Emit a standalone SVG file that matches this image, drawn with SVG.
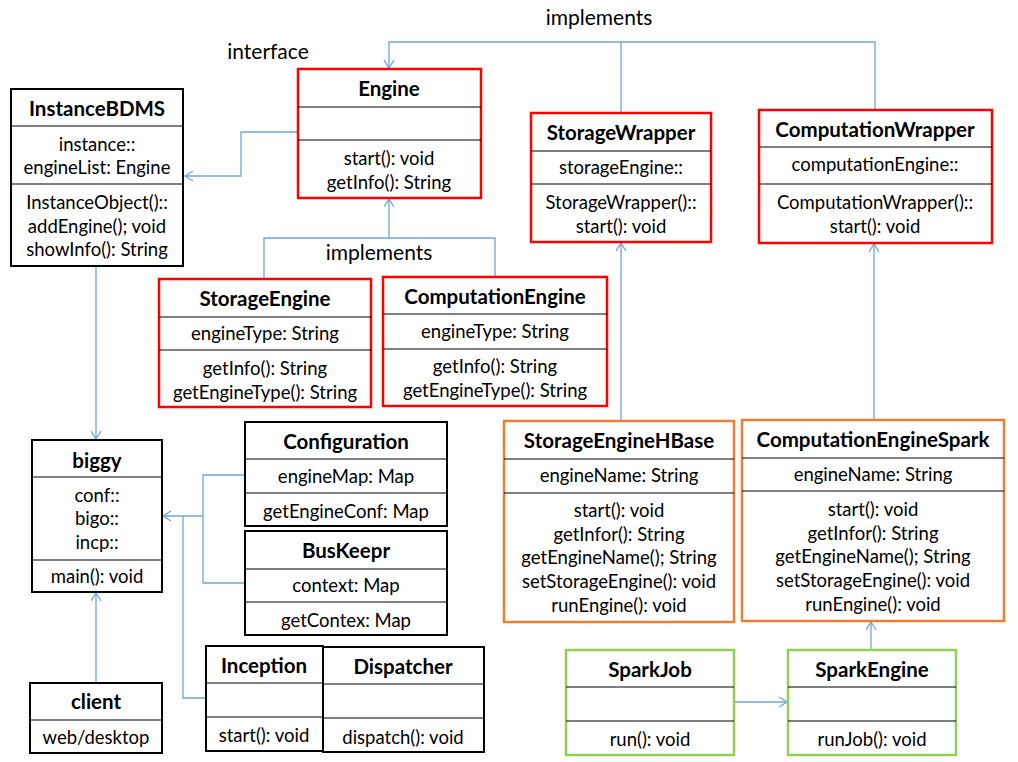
<svg xmlns="http://www.w3.org/2000/svg" width="1018" height="762" viewBox="0 0 1018 762">
<defs>
<marker id="arr" markerUnits="userSpaceOnUse" markerWidth="12" markerHeight="12" refX="9" refY="5.5" orient="auto">
<path d="M1,0.5 L9,5.5 L1,10.5" fill="none" stroke="#6FA5DA" stroke-width="1.3"/>
</marker>
</defs>
<style>
text{font-family:Lato,"Open Sans","Liberation Sans",sans-serif;font-size:18.5px;fill:#000;text-anchor:middle;dominant-baseline:central}
.t{font-weight:bold;font-size:20.5px}
.lbl{font-size:21px}
.blk{fill:#fff;stroke:#000;stroke-width:2}
.red{fill:#fff;stroke:#FF0000;stroke-width:2.5}
.org{fill:#fff;stroke:#ED7D31;stroke-width:2.5}
.grn{fill:#fff;stroke:#92D050;stroke-width:2.5}
.d{stroke:#000;stroke-width:1}
.c{fill:none;stroke:#6FA5DA;stroke-width:1.3}
</style>
<rect width="1018" height="762" fill="#fff"/>

<g id="connectors">
<path class="c" d="M298,132 H241 V176 H185" marker-end="url(#arr)"/>
<path class="c" d="M875,110 V42 H389 V68" marker-end="url(#arr)"/>
<path class="c" d="M621,113 V42"/>
<path class="c" d="M264,279 V238 H495 V277"/>
<path class="c" d="M389,238 V199" marker-end="url(#arr)"/>
<path class="c" d="M96,266 V439" marker-end="url(#arr)"/>
<path class="c" d="M96,683 V593" marker-end="url(#arr)"/>
<path class="c" d="M245,475 H203 V583 H245"/>
<path class="c" d="M203,516 H163" marker-end="url(#arr)"/>
<path class="c" d="M206,698 H183 V516"/>
<path class="c" d="M621,421 V243" marker-end="url(#arr)"/>
<path class="c" d="M874,420 V244" marker-end="url(#arr)"/>
<path class="c" d="M734,702 H787" marker-end="url(#arr)"/>
<path class="c" d="M871,650 V622" marker-end="url(#arr)"/>
</g>

<g id="labels">
<text class="lbl" x="268" y="50">interface</text>
<text class="lbl" x="599" y="16">implements</text>
<text class="lbl" x="379" y="251">implements</text>
</g>

<g id="InstanceBDMS">
<rect class="blk" x="11" y="89" width="172" height="177"/>
<line class="d" x1="11" y1="126" x2="183" y2="126"/>
<line class="d" x1="11" y1="184" x2="183" y2="184"/>
<text class="t" x="97" y="108">InstanceBDMS</text>
<text x="97" y="144">instance::</text>
<text x="97" y="167">engineList: Engine</text>
<text x="97" y="202">InstanceObject()::</text>
<text x="97" y="226">addEngine(); void</text>
<text x="97" y="249">showInfo(): String</text>
</g>

<g id="Engine">
<rect class="red" x="298" y="69" width="183" height="129"/>
<line class="d" x1="298" y1="107" x2="481" y2="107"/>
<line class="d" x1="298" y1="140" x2="481" y2="140"/>
<text class="t" x="389" y="88">Engine</text>
<text x="389" y="158">start(): void</text>
<text x="389" y="182">getInfo(): String</text>
</g>

<g id="StorageWrapper">
<rect class="red" x="531" y="113" width="180" height="129"/>
<line class="d" x1="531" y1="151" x2="711" y2="151"/>
<line class="d" x1="531" y1="184" x2="711" y2="184"/>
<text class="t" x="621" y="132">StorageWrapper</text>
<text x="621" y="167">storageEngine::</text>
<text x="621" y="202">StorageWrapper()::</text>
<text x="621" y="226">start(): void</text>
</g>

<g id="ComputationWrapper">
<rect class="red" x="759" y="110" width="233" height="133"/>
<line class="d" x1="759" y1="147" x2="992" y2="147"/>
<line class="d" x1="759" y1="184" x2="992" y2="184"/>
<text class="t" x="875" y="129">ComputationWrapper</text>
<text x="875" y="164">computationEngine::</text>
<text x="875" y="202">ComputationWrapper()::</text>
<text x="875" y="226">start(): void</text>
</g>

<g id="StorageEngine">
<rect class="red" x="159" y="279" width="212" height="128"/>
<line class="d" x1="159" y1="317" x2="371" y2="317"/>
<line class="d" x1="159" y1="350" x2="371" y2="350"/>
<text class="t" x="265" y="298">StorageEngine</text>
<text x="265" y="333">engineType: String</text>
<text x="265" y="368">getInfo(): String</text>
<text x="265" y="392">getEngineType(): String</text>
</g>

<g id="ComputationEngine">
<rect class="red" x="383" y="277" width="224" height="129"/>
<line class="d" x1="383" y1="314" x2="607" y2="314"/>
<line class="d" x1="383" y1="349" x2="607" y2="349"/>
<text class="t" x="495" y="296">ComputationEngine</text>
<text x="495" y="331">engineType: String</text>
<text x="495" y="366">getInfo(): String</text>
<text x="495" y="390">getEngineType(): String</text>
</g>

<g id="biggy">
<rect class="blk" x="32" y="440" width="130" height="152"/>
<line class="d" x1="32" y1="477" x2="162" y2="477"/>
<line class="d" x1="32" y1="560" x2="162" y2="560"/>
<text class="t" x="97" y="460">biggy</text>
<text x="97" y="495">conf::</text>
<text x="97" y="518">bigo::</text>
<text x="97" y="542">incp::</text>
<text x="97" y="576">main(): void</text>
</g>

<g id="client">
<rect class="blk" x="30" y="683" width="132" height="70"/>
<line class="d" x1="30" y1="720" x2="162" y2="720"/>
<text class="t" x="96" y="701">client</text>
<text x="96" y="737">web/desktop</text>
</g>

<g id="Configuration">
<rect class="blk" x="245" y="422" width="202" height="104"/>
<line class="d" x1="245" y1="459" x2="447" y2="459"/>
<line class="d" x1="245" y1="493" x2="447" y2="493"/>
<text class="t" x="346" y="441">Configuration</text>
<text x="346" y="476">engineMap: Map</text>
<text x="346" y="511">getEngineConf: Map</text>
</g>

<g id="BusKeepr">
<rect class="blk" x="245" y="531" width="202" height="104"/>
<line class="d" x1="245" y1="569" x2="447" y2="569"/>
<line class="d" x1="245" y1="602" x2="447" y2="602"/>
<text class="t" x="346" y="550">BusKeepr</text>
<text x="346" y="585">context: Map</text>
<text x="346" y="620">getContex: Map</text>
</g>

<g id="Inception">
<rect class="blk" x="206" y="646" width="117" height="105"/>
<line class="d" x1="206" y1="683" x2="323" y2="683"/>
<line class="d" x1="206" y1="717" x2="323" y2="717"/>
<text class="t" x="264" y="665">Inception</text>
<text x="264" y="735">start(): void</text>
</g>

<g id="Dispatcher">
<rect class="blk" x="323" y="647" width="161" height="105"/>
<line class="d" x1="323" y1="684" x2="484" y2="684"/>
<line class="d" x1="323" y1="718" x2="484" y2="718"/>
<text class="t" x="403" y="666">Dispatcher</text>
<text x="403" y="737">dispatch(): void</text>
</g>

<g id="StorageEngineHBase">
<rect class="org" x="504" y="421" width="230" height="201"/>
<line class="d" x1="504" y1="459" x2="734" y2="459"/>
<line class="d" x1="504" y1="493" x2="734" y2="493"/>
<text class="t" x="619" y="440">StorageEngineHBase</text>
<text x="619" y="475">engineName: String</text>
<text x="619" y="510">start(): void</text>
<text x="619" y="534">getInfor(): String</text>
<text x="619" y="557">getEngineName(); String</text>
<text x="619" y="581">setStorageEngine(): void</text>
<text x="619" y="605">runEngine(): void</text>
</g>

<g id="ComputationEngineSpark">
<rect class="org" x="742" y="420" width="262" height="201"/>
<line class="d" x1="742" y1="458" x2="1004" y2="458"/>
<line class="d" x1="742" y1="491" x2="1004" y2="491"/>
<text class="t" x="873" y="439">ComputationEngineSpark</text>
<text x="873" y="474">engineName: String</text>
<text x="873" y="509">start(): void</text>
<text x="873" y="533">getInfor(): String</text>
<text x="873" y="556">getEngineName(); String</text>
<text x="873" y="580">setStorageEngine(): void</text>
<text x="873" y="604">runEngine(): void</text>
</g>

<g id="SparkJob">
<rect class="grn" x="566" y="650" width="168" height="105"/>
<line class="d" x1="566" y1="687" x2="734" y2="687"/>
<line class="d" x1="566" y1="721" x2="734" y2="721"/>
<text class="t" x="650" y="669">SparkJob</text>
<text x="650" y="739">run(): void</text>
</g>

<g id="SparkEngine">
<rect class="grn" x="788" y="650" width="168" height="105"/>
<line class="d" x1="788" y1="687" x2="956" y2="687"/>
<line class="d" x1="788" y1="721" x2="956" y2="721"/>
<text class="t" x="872" y="669">SparkEngine</text>
<text x="872" y="739">runJob(): void</text>
</g>
</svg>
